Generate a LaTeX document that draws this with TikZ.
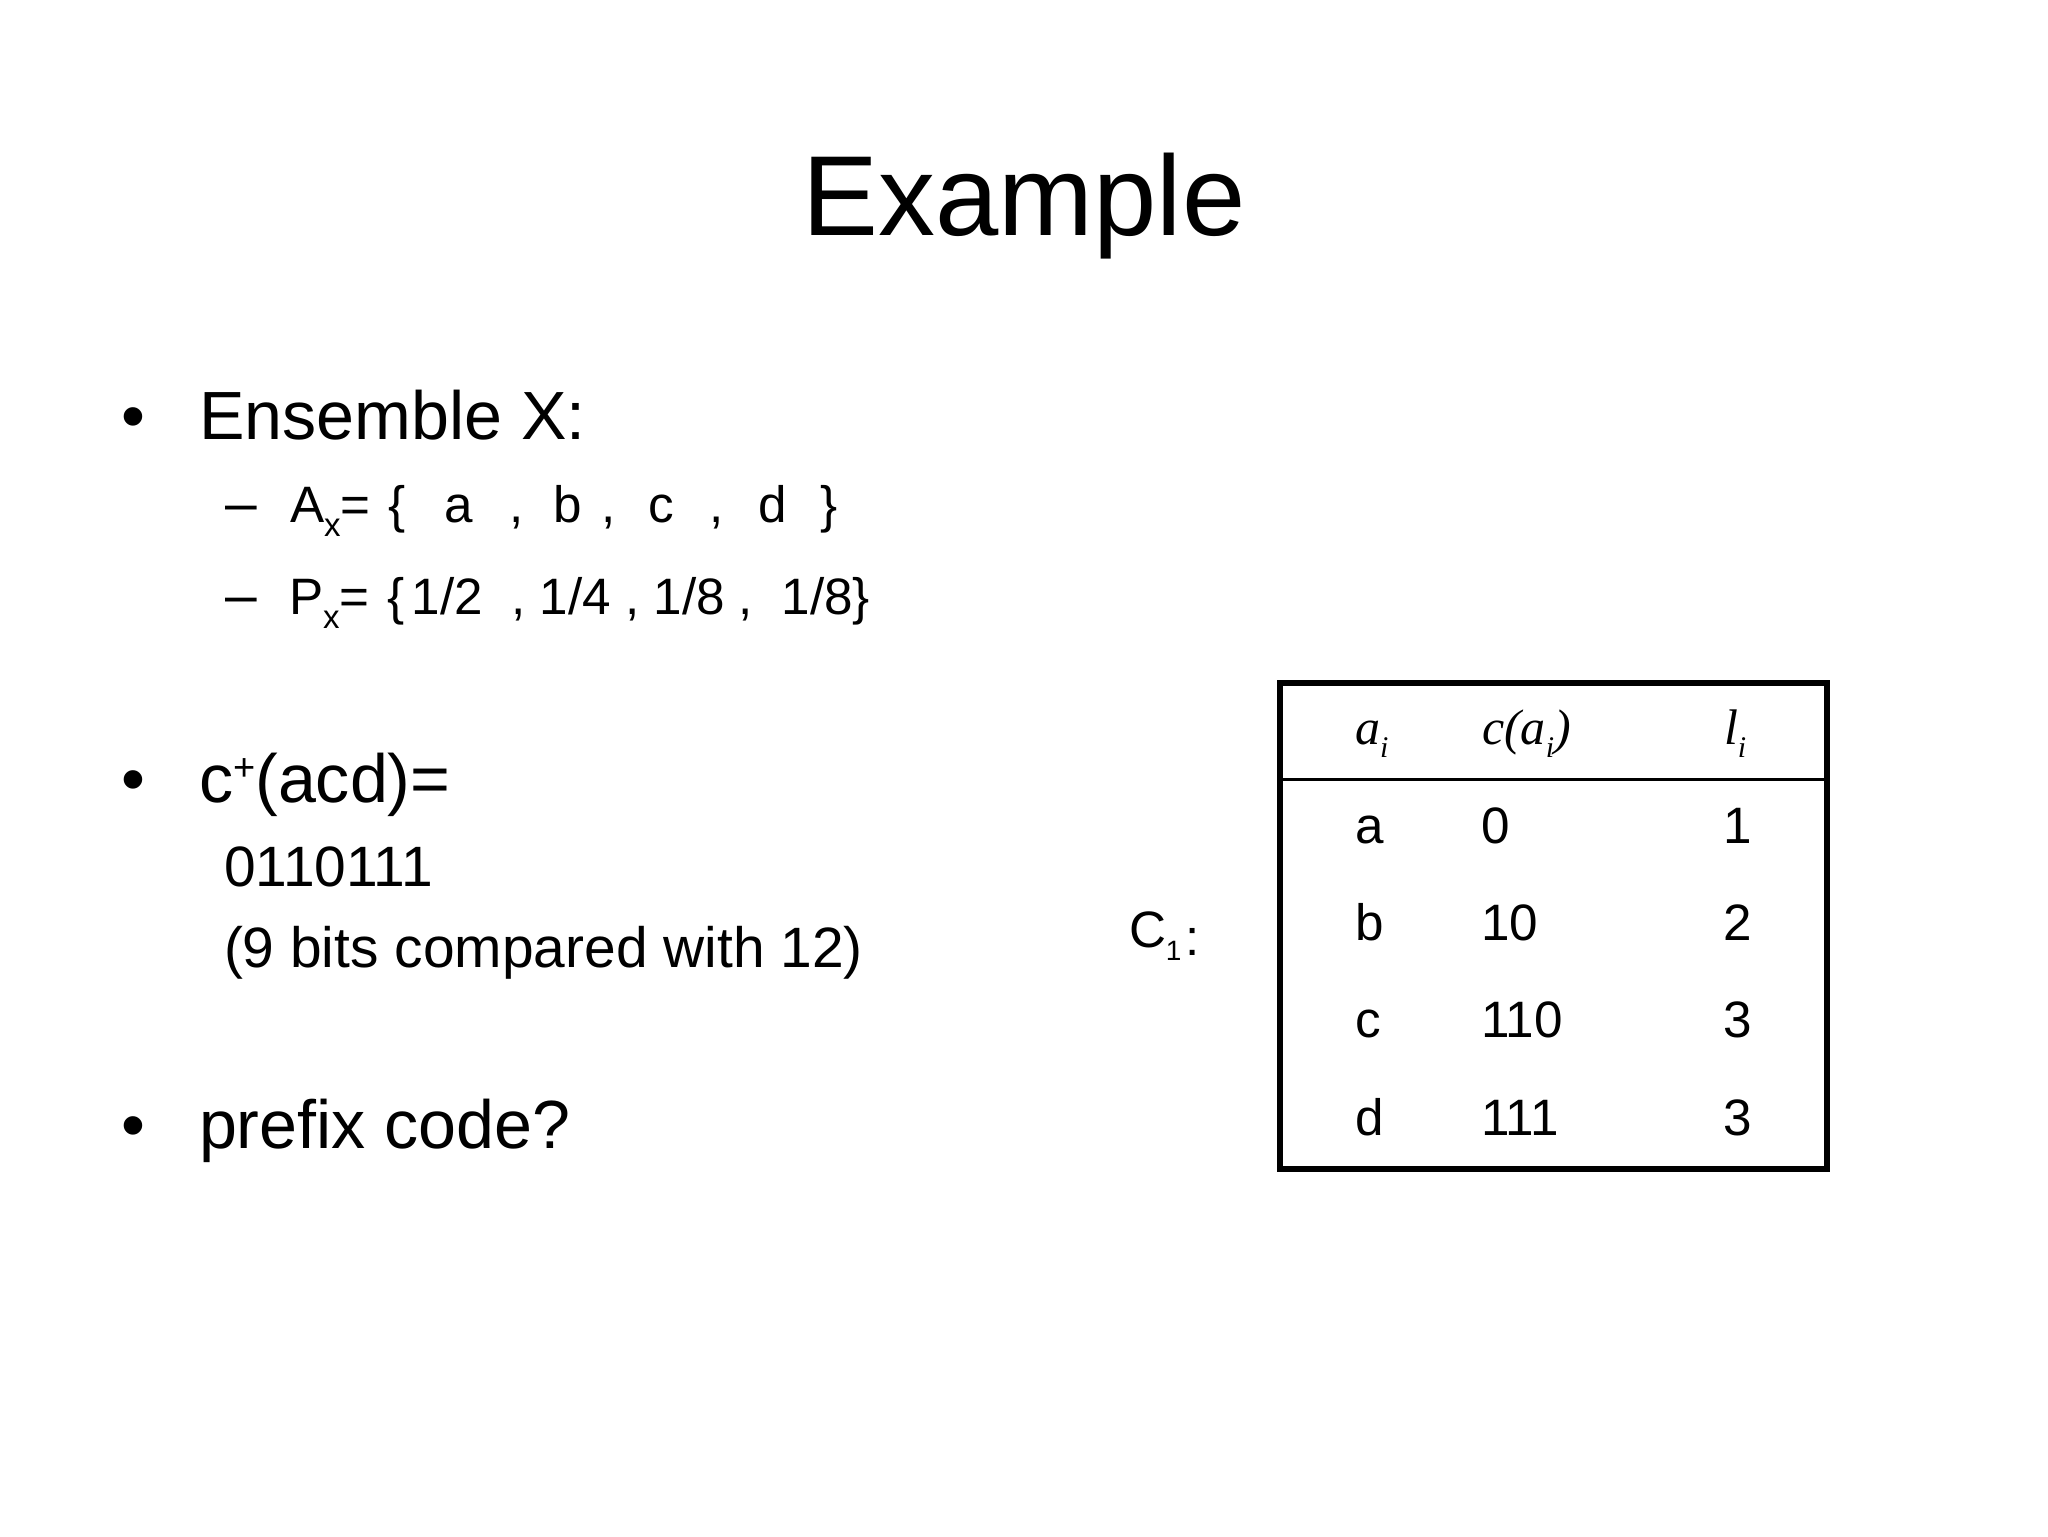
\documentclass[tikz,border=0pt]{standalone}
\usepackage{fontspec}
\setmainfont{Liberation Sans}
\newfontfamily\tnr{Liberation Serif}
\newcommand\fs[1]{\fontsize{#1pt}{#1pt}\selectfont}
\newcommand\subx[3]{\raisebox{-#1pt}{\fs{#2}#3}}
\begin{document}
\begin{tikzpicture}[x=0.5pt,y=-0.5pt,
  txt/.style={anchor=base west, inner sep=0pt, outer sep=0pt},
  titletxt/.style={anchor=base, inner sep=0pt, outer sep=0pt, font=\fs{56.9}},
  lone/.style={txt, font=\fs{34.1}},
  ltwo/.style={txt, font=\fs{28.45}},
  lthree/.style={txt, font=\fs{25.6}},
  hdr/.style={txt, font=\fs{25}\tnr\itshape},
  cell/.style={txt, font=\fs{25.6}},
  frame/.style={line width=3.15pt},
  rule/.style={line width=1.5pt}
]
\useasboundingbox (0,0) rectangle (2048,1536);
\fill[white] (0,0) rectangle (2048,1536);

% title
\node[titletxt] (title) at (1024,235) {Example};

% left column
\node[lone] (b1) at (121,439) {•};
\node[lone] (ens) at (199,439) {Ensemble X:};
\node[ltwo] (d1) at (225,522.5) {–};
\node[lthree] (ax) at (290,522.5) {A\subx{7}{16.5}{x}=\hspace*{9pt}\{\hspace*{19.5pt}a\hspace*{18pt},\hspace*{15pt}b\hspace*{10pt},\hspace*{16.25pt}c\hspace*{17.7pt},\hspace*{17.3pt}d\hspace*{16.6pt}\}};
\node[ltwo] (d2) at (225,614) {–};
\node[lthree] (px) at (289,614) {P\subx{7}{16.5}{x}=\hspace*{9pt}\{\hspace*{3.5pt}1/2\ \ , 1/4 , 1/8 ,\ \ 1/8\}};

\node[lone] (b2) at (121,802) {•};
\node[lone] (cplus) at (199,802) {c\raisebox{11pt}{\fs{19}+}(acd)=};
\node[ltwo] (bits) at (224,886) {0110111};
\node[ltwo] (cmp) at (224,967) {(9 bits compared with 12)};

\node[lone] (b3) at (121,1148.5) {•};
\node[lone] (pfx) at (199,1148.5) {prefix code?};

% code label
\node[txt, font=\fs{25.6}] (c1) at (1129,947) {C\subx{6.5}{14}{1}\hspace*{2pt}\raisebox{-4pt}{:}};

% table frame
\coordinate (tl) at (1280,683);
\coordinate (br) at (1826.7,1169);
\coordinate (hl) at (1280,779);
\coordinate (hr) at (1826.7,779);
\draw[frame] (tl) rectangle (br);
\draw[rule] (hl) -- (hr);

% header
\node[hdr] (h1) at (1355,744) {a\subx{6.5}{15}{i}};
\node[hdr] (h2) at (1482,744) {c(a\subx{6.5}{15}{i})};
\node[hdr] (h3) at (1724,744) {l\subx{6.5}{15}{i}};

% body
\node[cell] (ra1) at (1355,843) {a};
\node[cell] (ra2) at (1481,843) {0};
\node[cell] (ra3) at (1723,843) {1};
\node[cell] (rb1) at (1355,940.3) {b};
\node[cell] (rb2) at (1481,940.3) {10};
\node[cell] (rb3) at (1723,940.3) {2};
\node[cell] (rc1) at (1355,1037.7) {c};
\node[cell] (rc2) at (1481,1037.7) {110};
\node[cell] (rc3) at (1723,1037.7) {3};
\node[cell] (rd1) at (1355,1135) {d};
\node[cell] (rd2) at (1481,1135) {111};
\node[cell] (rd3) at (1723,1135) {3};
\end{tikzpicture}
\end{document}
